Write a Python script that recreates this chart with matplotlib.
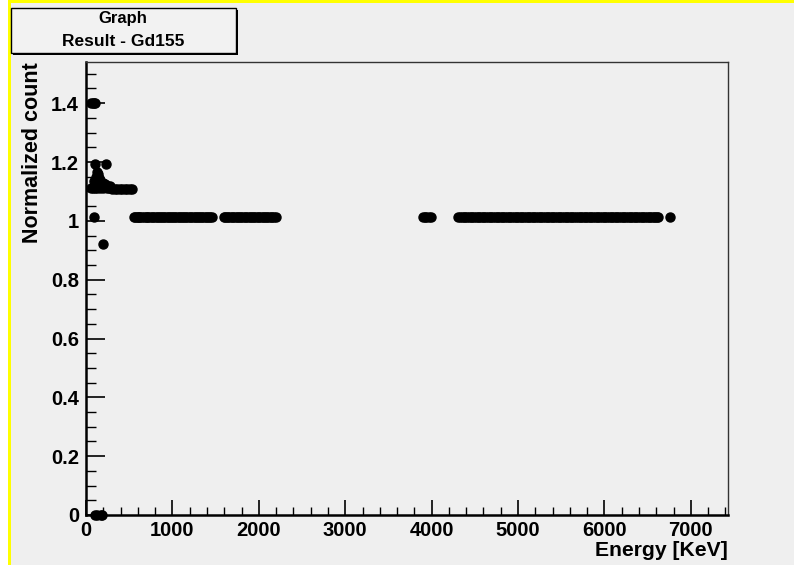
import matplotlib
matplotlib.use("Agg")
import matplotlib.pyplot as plt
from matplotlib.patches import Rectangle
from matplotlib.ticker import MultipleLocator, FuncFormatter

# low energy part (keV, normalized count)
low_energy = [62, 78, 95, 108,
              105, 228,
              90, 110, 125, 140, 150, 165, 180, 200, 220, 250, 275,
              60, 80, 100, 130, 160, 200, 240, 270, 300, 330, 360, 390, 420, 450, 480, 510, 532,
              95, 200,
              105, 125, 170, 190]
low_count = [1.40, 1.40, 1.40, 1.40,
             1.193, 1.193,
             1.135, 1.15, 1.165, 1.16, 1.145, 1.14, 1.13, 1.13, 1.125, 1.12, 1.118,
             1.11, 1.11, 1.11, 1.11, 1.11, 1.11, 1.11, 1.11, 1.108, 1.108, 1.108, 1.108, 1.108,
             1.108, 1.108, 1.108, 1.108,
             1.012, 0.92,
             0.0, 0.0, 0.0, 0.0]

# lines with normalized count ~1
flat_energy = [552, 570, 585, 598, 610, 628, 648, 668, 690, 705, 722, 741, 760, 779, 798, 816,
               835, 853, 871, 888, 905, 925, 944, 962, 980, 999, 1018, 1035, 1052, 1071, 1090,
               1108, 1125, 1144, 1163, 1181, 1200, 1219, 1238, 1256, 1275, 1292, 1310, 1329,
               1348, 1366, 1385, 1402, 1420, 1439, 1458,
               1592, 1611, 1630, 1649, 1668, 1686, 1705, 1723, 1742, 1761, 1780, 1799, 1818,
               1836, 1855, 1874, 1893, 1911, 1930, 1949, 1968, 1986, 2005, 2024, 2043, 2061,
               2080, 2099, 2118, 2136, 2155, 2175, 2195,
               3895, 3918, 3940, 3965, 3988,
               4310, 4331, 4352, 4371, 4390, 4411, 4431, 4450, 4470, 4491, 4512, 4531, 4550,
               4570, 4590, 4611, 4632, 4651, 4671, 4690, 4710, 4731, 4752, 4771, 4790, 4810,
               4830, 4851, 4871, 4890, 4910, 4930, 4950, 4971, 4992, 5011, 5030, 5050, 5070,
               5091, 5111, 5130, 5150, 5170, 5190, 5211, 5232, 5251, 5270, 5290, 5310, 5331,
               5351, 5370, 5390, 5410, 5430, 5451, 5472, 5491, 5510, 5530, 5550, 5571, 5591,
               5610, 5630, 5650, 5670, 5691, 5712, 5731, 5750, 5770, 5790, 5811, 5831, 5850,
               5870, 5890, 5910, 5931, 5952, 5971, 5990, 6010, 6030, 6051, 6071, 6090, 6110,
               6130, 6150, 6171, 6192, 6211, 6230, 6250, 6270, 6291, 6311, 6330, 6350, 6370,
               6390, 6411, 6432, 6451, 6470, 6490, 6510, 6531, 6551, 6570, 6590, 6606, 6622,
               6758]
flat_count = [1.012] * len(flat_energy)

W, H = 794, 565
bg = "#efefef"
plt.rcParams["font.family"] = ["Liberation Sans", "DejaVu Sans"]
plt.rcParams["font.weight"] = "bold"

fig = plt.figure(figsize=(W / 100, H / 100), dpi=100)
fig.patch.set_facecolor("white")


def px(x0, y0, w, h, **kw):
    # rectangle in pixel coords (origin top-left)
    r = Rectangle((x0 / W, 1 - (y0 + h) / H), w / W, h / H, transform=fig.transFigure, **kw)
    fig.add_artist(r)
    return r


px(8, 0, W - 8, H, facecolor=bg, edgecolor="none", zorder=0)
px(8, 0, 3, H, facecolor="#ffff00", edgecolor="none", zorder=1)
px(8, 0, W - 8, 3, facecolor="#ffff00", edgecolor="none", zorder=1)

# title box with shadow
px(13, 10, 225, 45, facecolor="black", edgecolor="none", zorder=2)
px(11, 8, 225, 45, facecolor="#f2f2f2", edgecolor="black", linewidth=1.0, zorder=3)
fig.text(123 / W, 1 - 19 / H, "Graph", ha="center", va="center", fontsize=12,
         fontweight="bold", zorder=4)
fig.text(123 / W, 1 - 41 / H, "Result - Gd155", ha="center", va="center", fontsize=12.5,
         fontweight="bold", zorder=4)

ax = fig.add_axes([86 / W, 1 - 515 / H, (728 - 86) / W, (515 - 62) / H])
ax.set_facecolor(bg)
ax.plot(low_energy, low_count, "o", color="black", markersize=6.5, clip_on=False, zorder=5)
ax.plot(flat_energy, flat_count, "o", color="black", markersize=6.5, zorder=5)

ax.set_xlim(0, 7430)
ax.set_ylim(0, 1.54)

ax.xaxis.set_major_locator(MultipleLocator(1000))
ax.xaxis.set_minor_locator(MultipleLocator(200))
ax.yaxis.set_major_locator(MultipleLocator(0.2))
ax.yaxis.set_minor_locator(MultipleLocator(0.05))
ax.yaxis.set_major_formatter(FuncFormatter(lambda v, p: "%g" % round(v, 2)))

ax.tick_params(axis="x", which="major", direction="in", length=11, width=1.2, top=False,
               labelsize=14.5, pad=4)
ax.tick_params(axis="x", which="minor", direction="in", length=6, width=1.0, top=False)
ax.tick_params(axis="y", which="major", direction="in", length=14, width=1.2, right=False,
               labelsize=14.5, pad=5)
ax.tick_params(axis="y", which="minor", direction="in", length=7, width=1.0, right=False)
for lab in ax.get_xticklabels() + ax.get_yticklabels():
    lab.set_fontweight("bold")

for s in ("left", "bottom"):
    ax.spines[s].set_linewidth(1.8)
    ax.spines[s].set_color("black")
for s in ("top", "right"):
    ax.spines[s].set_linewidth(1.0)
    ax.spines[s].set_color("#333333")

ax.set_xlabel("Energy [KeV]", fontsize=15.2, fontweight="bold", loc="right", labelpad=1)
ax.set_ylabel("Normalized count", fontsize=15.5, fontweight="bold", loc="top", labelpad=6)

fig.savefig("out.png", dpi=100, facecolor=fig.get_facecolor())
